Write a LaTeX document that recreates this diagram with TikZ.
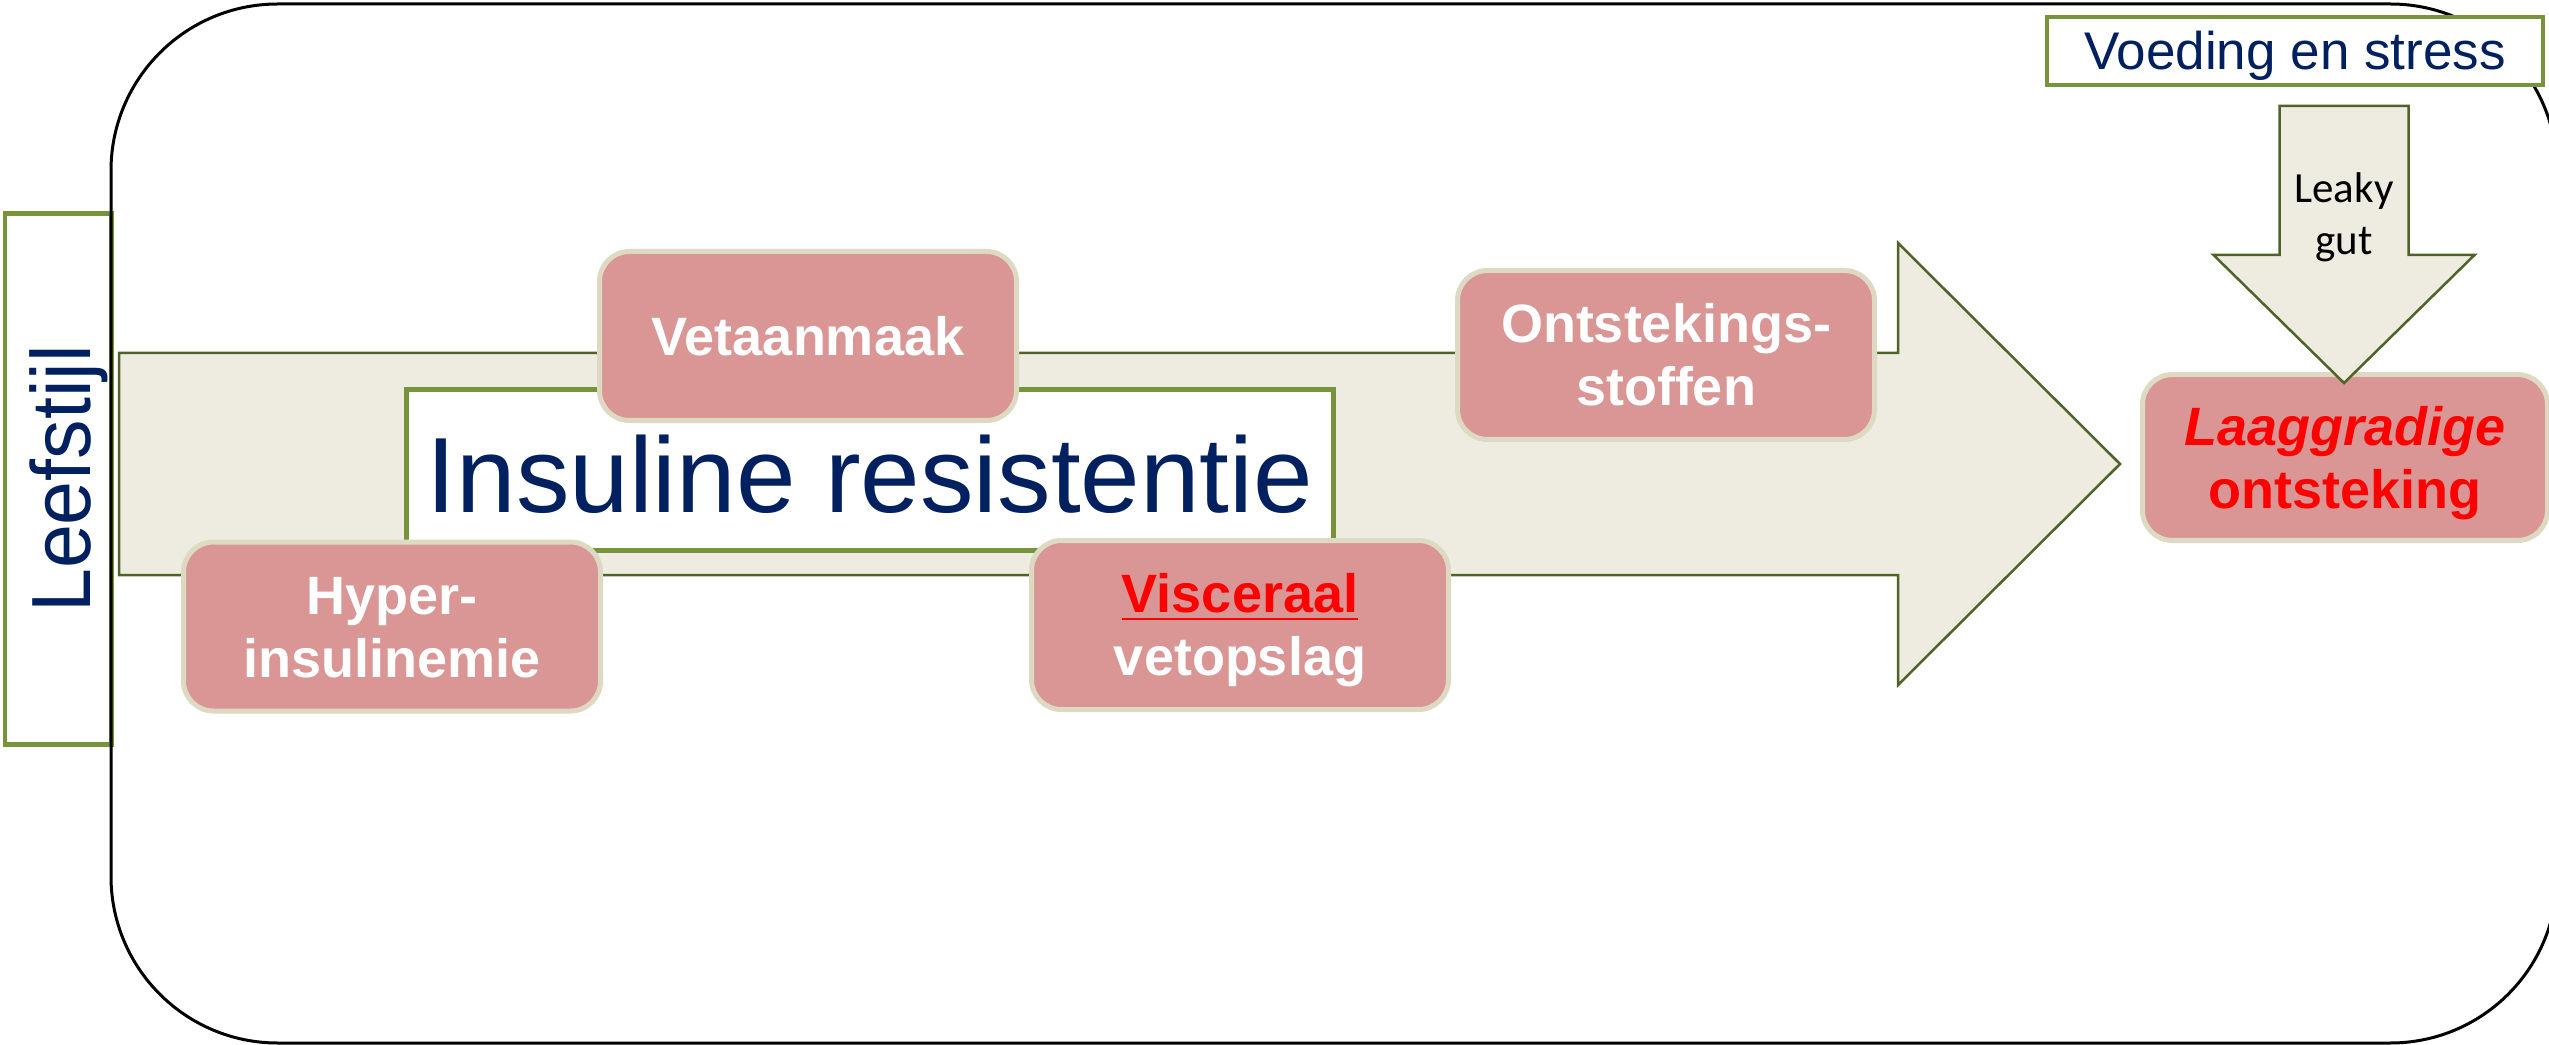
\documentclass[tikz,border=0pt]{standalone}
\usepackage{fontspec}
\setmainfont{Liberation Sans}
\newfontfamily\calibrifam{Carlito}

\definecolor{navy}{HTML}{002060}
\definecolor{leafgreen}{HTML}{77933C}
\definecolor{olive}{HTML}{4F6228}
\definecolor{arrowfill}{HTML}{EEECE1}
\definecolor{boxfill}{HTML}{D99694}
\definecolor{boxedge}{HTML}{DDD9C3}

% red underline for a highlighted word
\newsavebox\ulbox
\newcommand\redul[1]{\sbox\ulbox{#1}\rlap{\rule[-2.2pt]{\wd\ulbox}{0.8pt}}\usebox\ulbox}
% two centred lines with a fixed first-line height and no stray depth
\newcommand\twoln[3]{\rule{0pt}{#1}\smash{#2}\\\smash{#3}}

\tikzset{
  causebox/.style={draw=boxedge, fill=boxfill, line width=1.5pt, rounded corners=9pt,
    minimum width=125.1pt, minimum height=50.7pt, inner sep=0pt, align=center,
    text=white, font=\bfseries\fontsize{16.2pt}{18.9pt}\selectfont},
  titlebox/.style={draw=leafgreen, fill=white, line width=1.35pt, inner sep=0pt, text=navy},
  flowarrow/.style={draw=olive, fill=arrowfill, line width=0.75pt, line join=miter},
}

\begin{document}
\begin{tikzpicture}[x=0.3pt, y=-0.3pt]
\useasboundingbox (0,0) rectangle (2549,1045);
\clip (0,0) rectangle (2549,1045);

% side label
\node[titlebox, rotate=90, minimum width=159.3pt, minimum height=31.95pt,
      text height=19.2pt, text depth=0pt,
      font=\fontsize{25.2pt}{30pt}\selectfont] (lifestyle) at (58,479)
      {\scalebox{0.94}[1]{Leefstijl}};

% outer frame
\draw[line width=0.9pt, rounded corners=50pt] (111,4) rectangle (2557,1043);

% main flow arrow
\draw[flowarrow] (119,353) -- (1898,353) -- (1898,243) -- (2120,464)
  -- (1898,685) -- (1898,575) -- (119,575) -- cycle;

% central title
\node[titlebox, minimum width=278.1pt, minimum height=48.3pt,
      text height=25.2pt, text depth=0pt,
      font=\fontsize{32.1pt}{38pt}\selectfont] (insres) at (870,470)
      {Insuline resistentie};

% causes and effects
\node[causebox, text height=11.6pt, text depth=0pt] (fatgen) at (808,336) {Vetaanmaak};
\node[causebox] (hyper) at (392,626.5) {\twoln{11.6pt}{Hyper-}{insulinemie}};
\node[causebox] (visc) at (1240,625)
  {\twoln{11.6pt}{\color{red}\redul{Visceraal}}{vetopslag}};
\node[causebox] (infl) at (1666,355) {\twoln{11.6pt}{Ontstekings-}{stoffen}};
\node[causebox, minimum width=121.5pt, minimum height=49.8pt, text=red] (lowgrade) at (2345,457.5)
  {\twoln{11.6pt}{\itshape Laaggradige}{ontsteking}};

% top-right source
\node[titlebox, minimum width=148.8pt, minimum height=20.4pt,
      text height=11.4pt, text depth=0pt,
      font=\fontsize{15.9pt}{19pt}\selectfont] (diet) at (2295,51) {Voeding en stress};

% downward arrow into the inflammation box
\draw[flowarrow] (2279.5,106) -- (2408.5,106) -- (2408.5,255) -- (2474.5,255)
  -- (2344,383) -- (2213.5,255) -- (2279.5,255) -- cycle;
\node[inner sep=0pt, align=center, font=\calibrifam\fontsize{12.9pt}{15.6pt}\selectfont]
  (leaky) at (2344,215.5) {\twoln{8.1pt}{Leaky}{gut}};
\end{tikzpicture}
\end{document}
